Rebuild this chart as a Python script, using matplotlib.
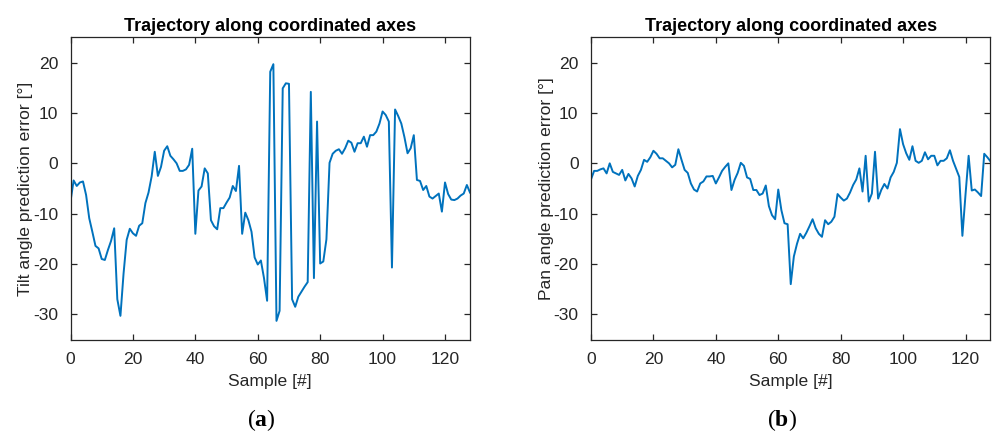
import numpy as np
import matplotlib
matplotlib.use("Agg")
import matplotlib.pyplot as plt

plt.rcParams['font.family'] = ['Liberation Sans', 'DejaVu Sans']
plt.rcParams['axes.unicode_minus'] = False
plt.rcParams['mathtext.fontset'] = 'custom'
plt.rcParams['mathtext.bf'] = 'Liberation Serif:bold'
plt.rcParams['mathtext.rm'] = 'Liberation Serif'

# prediction errors per sample
tilt_err = [-7.6, -3.4, -4.5, -3.8, -3.6, -6.3, -10.9, -13.6, -16.4, -16.9,
            -19.0, -19.2, -17.2, -15.4, -12.9, -27.0, -30.3, -21.9, -15.2, -13.0,
            -13.9, -14.4, -12.4, -11.9, -7.9, -5.8, -2.6, 2.3, -2.5, -0.7,
            2.5, 3.4, 1.5, 0.8, 0.0, -1.5, -1.5, -1.2, -0.3, 2.9,
            -14.0, -5.4, -4.6, -1.0, -2.0, -11.3, -12.5, -13.1, -8.9, -8.9,
            -7.8, -6.8, -4.5, -5.5, -0.5, -14.0, -9.8, -11.3, -13.6, -18.7,
            -20.1, -19.3, -22.8, -27.3, 18.2, 19.7, -31.3, -29.3, 14.9, 15.9,
            15.8, -27.0, -28.5, -26.5, -25.5, -24.5, -23.6, 14.2, -22.8, 8.3,
            -19.9, -19.5, -15.1, 0.1, 1.9, 2.5, 2.8, 1.9, 3.0, 4.5,
            4.1, 2.3, 4.0, 4.0, 5.3, 3.3, 5.6, 5.6, 6.3, 7.9,
            10.3, 9.6, 8.3, -20.7, 10.7, 9.4, 7.9, 5.2, 2.0, 3.0,
            5.6, -3.3, -3.5, -5.3, -4.5, -6.6, -7.0, -6.5, -6.0, -9.6,
            -3.8, -6.1, -7.2, -7.3, -7.0, -6.4, -6.0, -4.3, -5.8]

pan_err = [-3.2, -1.5, -1.5, -1.2, -1.0, -2.0, 0.0, -1.7, -2.0, -2.3,
           -1.3, -3.4, -2.1, -3.0, -4.6, -2.5, -1.3, 0.7, 0.3, 1.2,
           2.5, 1.9, 1.0, 1.0, 0.5, 0.0, -0.8, -0.3, 2.8, 0.7,
           -1.3, -1.9, -4.0, -5.2, -5.6, -4.0, -3.6, -2.6, -2.6, -2.5,
           -4.0, -2.8, -1.5, -0.7, 0.0, -5.3, -3.3, -1.9, 0.1, -0.5,
           -2.8, -3.1, -5.3, -5.3, -6.3, -6.0, -4.4, -8.5, -10.3, -11.1,
           -5.2, -9.3, -11.9, -12.1, -24.0, -18.5, -16.0, -14.0, -14.9, -13.8,
           -12.5, -11.1, -12.9, -14.0, -14.6, -11.3, -12.1, -11.6, -10.6, -6.1,
           -6.8, -7.4, -7.0, -5.8, -4.3, -3.2, -1.0, -5.6, 1.5, -7.6,
           -6.0, 2.3, -7.0, -5.3, -4.1, -5.0, -2.8, -1.7, 0.1, 6.8,
           3.8, 2.0, 0.7, 3.4, 0.5, 0.1, 0.5, 2.2, 0.8, 1.5,
           1.5, -0.4, 0.5, 0.5, 1.0, 2.6, 0.5, -1.1, -2.7, -14.4,
           -6.2, 1.5, -5.4, -5.2, -5.8, -6.5, 1.9, 1.2, 0.4]

samples = np.arange(len(tilt_err))
ylabels = ['Tilt angle prediction error [°]', 'Pan angle prediction error [°]']
panel_tags = ['a', 'b']

dark = '#262626'
fig = plt.figure(figsize=(9.92, 4.32), dpi=100)
lefts = [70.5 / 992, 591 / 992]
axes = [fig.add_axes([l, 0.2141, 0.4027, 0.6991]) for l in lefts]

for ax, err, lab in zip(axes, [tilt_err, pan_err], ylabels):
    ax.plot(samples, err, color='#0072BD', lw=1.4)
    ax.set_xlim(0, 128)
    ax.set_ylim(-35, 25)
    ax.set_xticks(range(0, 121, 20))
    ax.set_yticks(range(-30, 21, 10))
    ax.tick_params(direction='in', top=True, right=True, length=4.5, width=0.9,
                   colors=dark, labelsize=12.6, pad=9)
    for s in ax.spines.values():
        s.set_color(dark)
        s.set_linewidth(0.9)
    ax.set_title('Trajectory along coordinated axes', fontsize=13, fontweight='bold',
                 color='black', pad=5)
    ax.set_xlabel('Sample [#]', fontsize=12.6, color=dark, labelpad=5)
    ax.set_ylabel(lab, fontsize=12.6, color=dark)
    ax.yaxis.set_label_coords(-0.093, 0.5)

centres = [261, 782]
for cx, tag in zip(centres, panel_tags):
    fig.text(cx / 992, 1 - 420 / 432, '(' + r'$\mathbf{' + tag + '}$' + ')',
             ha='center', va='center', fontsize=17, family='Liberation Serif')

fig.savefig('out.png', dpi=100)
